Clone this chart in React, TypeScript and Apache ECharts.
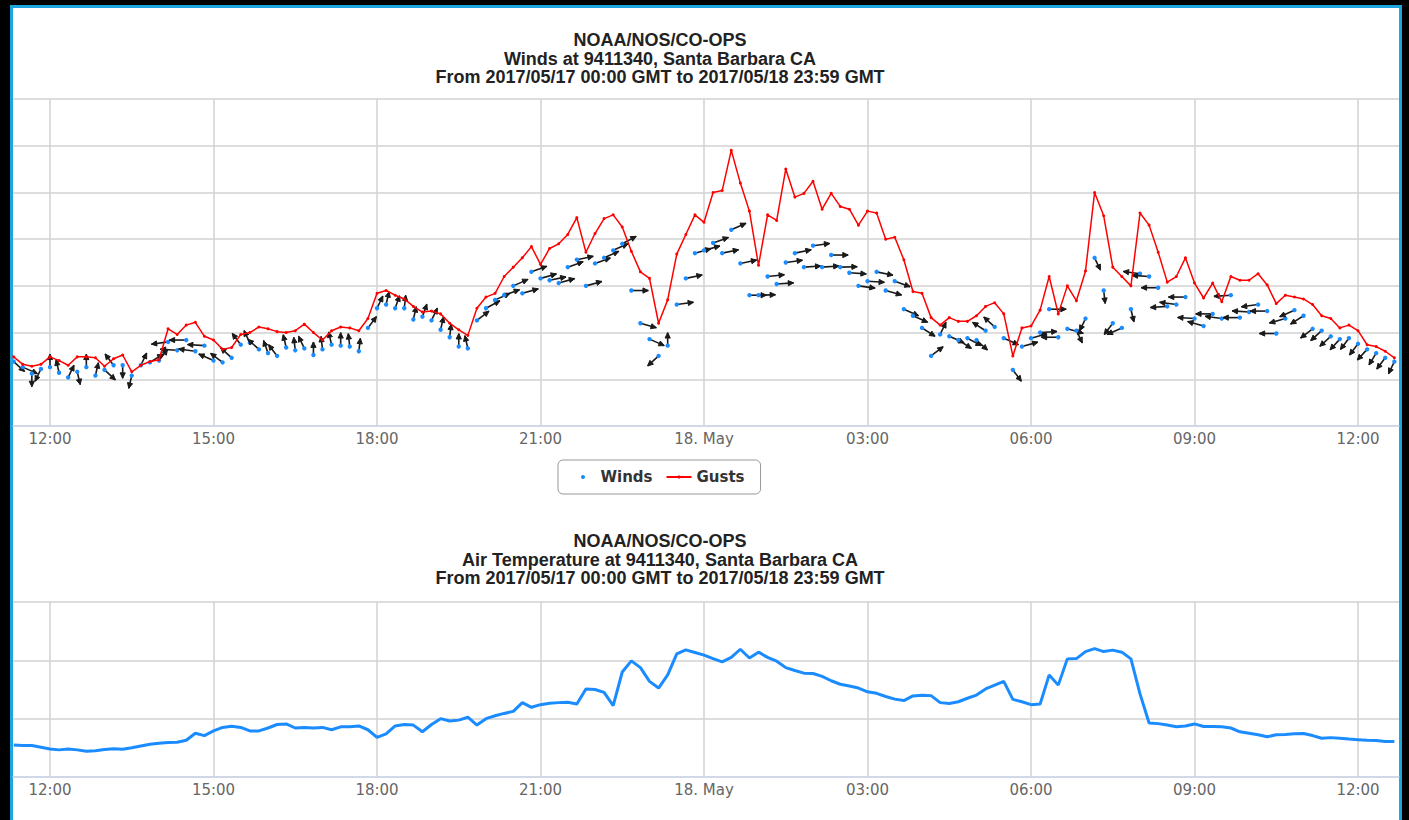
import React, { useEffect, useRef } from 'react';
import * as echarts from 'echarts';

// Time is expressed in hours since 2017-05-17 00:00 (station local time)
const FIRST_HOUR = 11 + 20 / 60; // first sample 11:20
const STEP_HOURS = 10 / 60; // 10-minute samples
const X_MIN = 11.321;
const X_MAX = 36.752;
const tickHours = [12, 15, 18, 21, 24, 27, 30, 33, 36];

const titleLinesWind = [
  'NOAA/NOS/CO-OPS',
  'Winds at 9411340, Santa Barbara CA',
  'From 2017/05/17 00:00 GMT to 2017/05/18 23:59 GMT',
];
const titleLinesTemp = [
  'NOAA/NOS/CO-OPS',
  'Air Temperature at 9411340, Santa Barbara CA',
  'From 2017/05/17 00:00 GMT to 2017/05/18 23:59 GMT',
];
const legendNames = ['Winds', 'Gusts'];

// Gusts (kn)
const gusts = [
  7.4, 6.6, 6.4, 6.6, 7.4, 7.0, 6.5, 7.4, 7.4, 7.3,
  6.4, 7.2, 7.6, 5.8, 6.5, 6.9, 7.1, 10.4, 9.8, 10.8,
  11.1, 9.6, 9.2, 8.2, 8.4, 9.8, 10.0, 10.6, 10.4, 10.1,
  10.0, 10.2, 10.9, 10.0, 9.2, 10.2, 10.6, 10.5, 10.2, 11.5,
  14.2, 14.5, 14.0, 13.6, 12.8, 12.2, 12.3, 12.0, 11.0, 10.3,
  9.7, 12.6, 13.8, 14.2, 16.0, 17.0, 18.0, 19.2, 17.3, 19.0,
  19.5, 20.5, 22.3, 18.6, 20.6, 22.2, 22.6, 21.3, 18.7, 16.5,
  15.8, 11.0, 13.5, 18.4, 20.5, 22.6, 21.8, 25.0, 25.2, 29.5,
  26.0, 23.0, 17.2, 22.6, 22.0, 27.5, 24.5, 24.9, 26.2, 23.2,
  24.9, 23.5, 23.2, 21.5, 23.0, 22.8, 20.0, 20.2, 17.8, 14.4,
  14.2, 11.6, 10.8, 11.6, 11.2, 11.2, 11.8, 12.8, 13.2, 12.0,
  7.5, 10.5, 10.7, 12.4, 16.0, 12.0, 15.0, 13.4, 16.6, 25.0,
  22.5, 17.0, 16.0, 15.0, 22.8, 21.5, 18.6, 15.4, 16.0, 18.0,
  15.3, 13.7, 15.3, 13.3, 16.0, 15.6, 15.6, 16.3, 15.1, 13.1,
  14.0, 13.8, 13.6, 13.0, 11.8, 11.5, 10.5, 10.8, 10.2, 8.7,
  8.5, 8.0, 7.3,
];

// Sustained wind speed (kn)
const windSpeed = [
  6.9, 6.3, 5.6, 6.1, 6.3, 5.7, 5.2, 5.8, 6.3, 5.4,
  6.0, 6.5, 6.5, 5.4, 6.5, 6.8, 7.0, 9.0, 8.1, 9.2,
  8.0, 8.6, 7.0, 6.8, 7.3, 8.7, 8.9, 8.2, 7.8, 7.5,
  8.4, 8.1, 8.3, 7.6, 8.2, 8.7, 8.6, 8.5, 8.0, 10.5,
  12.6, 13.0, 12.6, 12.6, 11.4, 11.7, 11.3, 10.3, 9.5, 8.5,
  8.3, 11.3, 12.6, 13.5, 14.0, 15.0, 14.2, 16.5, 15.8, 15.6,
  15.3, 17.0, 17.8, 15.0, 17.4, 18.0, 18.8, 19.5, 14.5, 11.0,
  9.3, 7.5, 8.6, 13.0, 15.8, 18.5, 18.8, 19.6, 18.5, 21.0,
  17.4, 14.0, 14.0, 16.0, 15.2, 17.5, 18.5, 17.0, 19.3, 17.0,
  18.3, 17.0, 16.4, 15.0, 15.5, 16.5, 14.5, 15.5, 12.5, 11.8,
  10.5, 7.5, 9.8, 9.6, 9.2, 9.4, 9.2, 10.2, 10.6, 9.4,
  6.0, 8.5, 9.4, 10.0, 12.5, 9.5, 10.4, 10.2, 11.5, 18.0,
  14.5, 11.0, 10.5, 12.5, 16.3, 16.0, 14.8, 12.8, 13.0, 13.8,
  11.5, 10.7, 12.0, 11.5, 14.0, 11.6, 12.2, 13.0, 12.3, 9.9,
  11.5, 12.4, 11.8, 10.4, 10.2, 9.6, 9.3, 9.4, 8.8, 8.2,
  7.8, 7.3, 6.9,
];

// Wind direction, degrees the wind blows FROM
const windDir = [
  320, 300, 0, 20, 180, 170, 200, 350, 180, 190,
  320, 150, 0, 10, 200, 230, 210, 80, 95, 90,
  100, 95, 120, 135, 140, 150, 160, 140, 165, 150,
  170, 175, 160, 180, 175, 170, 180, 175, 185, 210,
  200, 190, 195, 185, 190, 195, 200, 190, 185, 180,
  170, 225, 235, 240, 245, 240, 250, 245, 250, 255,
  250, 245, 255, 250, 245, 240, 240, 235, 270, 290,
  300, 40, 180, 260, 255, 250, 250, 245, 255, 240,
  255, 270, 268, 262, 265, 260, 255, 265, 260, 265,
  270, 268, 275, 280, 275, 285, 290, 295, 300, 300,
  310, 225, 200, 300, 310, 305, 320, 130, 140, 300,
  330, 250, 250, 265, 270, 90, 290, 340, 20, 340,
  355, 30, 60, 350, 100, 95, 90, 85, 100, 90,
  95, 110, 90, 100, 85, 90, 95, 80, 90, 90,
  70, 60, 50, 45, 40, 40, 35, 30, 30, 35,
  25, 30, 20,
];

// Air temperature (°F)
const airTemp = [
  59.10, 59.08, 59.08, 59.02, 58.96, 58.93, 58.96, 58.93, 58.88, 58.90,
  58.94, 58.97, 58.95, 59.00, 59.06, 59.12, 59.16, 59.18, 59.19, 59.26,
  59.50, 59.42, 59.58, 59.70, 59.74, 59.70, 59.58, 59.58, 59.68, 59.80,
  59.82, 59.68, 59.70, 59.68, 59.70, 59.62, 59.72, 59.72, 59.75, 59.62,
  59.36, 59.48, 59.75, 59.80, 59.78, 59.55, 59.80, 60.00, 59.92, 59.95,
  60.05, 59.78, 60.00, 60.10, 60.18, 60.25, 60.55, 60.39, 60.48, 60.53,
  60.55, 60.56, 60.50, 61.02, 61.00, 60.90, 60.45, 61.60, 61.98, 61.75,
  61.28, 61.05, 61.50, 62.22, 62.36, 62.27, 62.18, 62.06, 61.95, 62.10,
  62.38, 62.08, 62.28, 62.10, 61.97, 61.75, 61.65, 61.56, 61.55, 61.45,
  61.30, 61.18, 61.12, 61.05, 60.92, 60.87, 60.76, 60.67, 60.62, 60.78,
  60.80, 60.79, 60.55, 60.52, 60.58, 60.70, 60.81, 61.02, 61.15, 61.28,
  60.66, 60.58, 60.48, 60.50, 61.50, 61.15, 62.05, 62.06, 62.30, 62.40,
  62.30, 62.35, 62.28, 62.05, 60.85, 59.85, 59.83, 59.78, 59.72, 59.75,
  59.82, 59.73, 59.73, 59.72, 59.68, 59.55, 59.50, 59.45, 59.38, 59.45,
  59.46, 59.48, 59.49, 59.42, 59.33, 59.35, 59.33, 59.30, 59.28, 59.26,
  59.25, 59.22, 59.22,
];

const hourAt = (i: number) => FIRST_HOUR + i * STEP_HOURS;

const BLUE = '#1a8cff';
const GRID_COLOR = '#d2d2d2';

function fmtHour(val: number) {
  const h = Math.round(val);
  if (Math.abs(val - h) > 1e-6) return '';
  const hh = h % 24;
  if (hh === 0) return '18. May';
  return (hh < 10 ? '0' : '') + hh + ':00';
}

function xAxisCfg(gridIndex: number) {
  return {
    type: 'value',
    gridIndex,
    min: X_MIN,
    max: X_MAX,
    axisLine: { show: true, lineStyle: { color: '#ccd6eb', width: 1.5 } },
    axisTick: { show: false, customValues: tickHours },
    axisLabel: {
      show: true,
      customValues: tickHours,
      formatter: fmtHour,
      color: '#666',
      fontFamily: 'DejaVu Sans',
      fontSize: 15,
      margin: 5,
    },
    splitLine: { show: true, lineStyle: { color: GRID_COLOR, width: 1.5 } },
  };
}

export default function App() {
  const ref = useRef<HTMLDivElement>(null);

  useEffect(() => {
    if (!ref.current) return;
    const chart = echarts.init(ref.current, undefined, { renderer: 'svg' });

    const windData = windSpeed.map((v, i) => [hourAt(i), v, windDir[i]]);
    const gustData = gusts.map((v, i) => [hourAt(i), v]);
    const tempData = airTemp.map((v, i) => [hourAt(i), v]);

    const titleStyle = {
      fontFamily: 'Liberation Sans',
      fontWeight: 'bold',
      fontSize: 18,
      lineHeight: 18.7,
      color: '#222',
    };

    const option: any = {
      animation: false,
      backgroundColor: 'transparent',
      title: [
        {
          text: titleLinesWind.join('\n'),
          left: 660,
          top: 30.5,
          textAlign: 'center',
          padding: 0,
          textStyle: titleStyle,
        },
        {
          text: titleLinesTemp.join('\n'),
          left: 660,
          top: 531.5,
          textAlign: 'center',
          padding: 0,
          textStyle: titleStyle,
        },
      ],
      legend: {
        data: [{ name: legendNames[0], icon: 'circle' }, { name: legendNames[1] }],
        left: 558,
        top: 460,
        orient: 'horizontal',
        padding: [9.5, 16, 9.5, 23],
        itemWidth: 25,
        itemHeight: 4,
        itemGap: 13,
        borderColor: '#999',
        borderWidth: 1,
        borderRadius: 5,
        selectedMode: false,
        textStyle: {
          fontFamily: 'DejaVu Sans',
          fontWeight: 'bold',
          fontSize: 15,
          color: '#333',
        },
      },
      grid: [
        { left: 13, right: 10, top: 99, height: 327 },
        { left: 13, right: 10, top: 602, height: 175 },
      ],
      xAxis: [xAxisCfg(0), xAxisCfg(1)],
      yAxis: [
        {
          type: 'value',
          gridIndex: 0,
          min: 0,
          max: 35,
          interval: 5,
          axisLabel: { show: false },
          axisLine: { show: false },
          axisTick: { show: false },
          splitLine: { show: true, lineStyle: { color: GRID_COLOR, width: 1.5 } },
        },
        {
          type: 'value',
          gridIndex: 1,
          min: 58,
          max: 64,
          interval: 2,
          axisLabel: { show: false },
          axisLine: { show: false },
          axisTick: { show: false },
          splitLine: { show: true, lineStyle: { color: GRID_COLOR, width: 1.5 } },
        },
      ],
      series: [
        {
          name: 'Winds',
          type: 'custom',
          xAxisIndex: 0,
          yAxisIndex: 0,
          itemStyle: { color: BLUE },
          encode: { x: 0, y: 1 },
          clip: true,
          data: windData,
          renderItem: (params: any, api: any) => {
            const p = api.coord([api.value(0), api.value(1)]);
            const bearing = ((api.value(2) + 180) * Math.PI) / 180;
            const ex = p[0] + 17 * Math.sin(bearing);
            const ey = p[1] - 13 * Math.cos(bearing);
            const ang = Math.atan2(ey - p[1], ex - p[0]);
            const hl = 6;
            const sp = 0.45;
            const h1 = [ex - hl * Math.cos(ang - sp), ey - hl * Math.sin(ang - sp)];
            const h2 = [ex - hl * Math.cos(ang + sp), ey - hl * Math.sin(ang + sp)];
            return {
              type: 'group',
              children: [
                {
                  type: 'line',
                  shape: { x1: p[0], y1: p[1], x2: ex, y2: ey },
                  style: { stroke: '#1a1a1a', lineWidth: 1.6 },
                },
                {
                  type: 'polygon',
                  shape: { points: [h1, [ex, ey], h2] },
                  style: { stroke: '#1a1a1a', fill: '#1a1a1a', lineWidth: 1 },
                },
                {
                  type: 'circle',
                  shape: { cx: p[0], cy: p[1], r: 2.2 },
                  style: { fill: BLUE },
                },
              ],
            };
          },
        },
        {
          name: 'Gusts',
          type: 'line',
          xAxisIndex: 0,
          yAxisIndex: 0,
          data: gustData,
          symbol: 'circle',
          symbolSize: 3,
          showSymbol: true,
          color: '#ff0000',
          lineStyle: { color: '#ff0000', width: 1.5 },
          itemStyle: { color: '#ff0000' },
        },
        {
          name: 'Air Temperature',
          type: 'line',
          xAxisIndex: 1,
          yAxisIndex: 1,
          data: tempData,
          symbol: 'none',
          color: BLUE,
          lineStyle: { color: BLUE, width: 3 },
        },
      ],
    };

    chart.setOption(option);
    return () => chart.dispose();
  }, []);

  return (
    <div
      style={{
        position: 'fixed',
        left: 0,
        top: 0,
        width: 1409,
        height: 820,
        background: '#000',
        overflow: 'hidden',
      }}
    >
      <div
        style={{
          position: 'absolute',
          left: 9.5,
          top: 5,
          width: 1386,
          height: 840,
          border: '3.5px solid #1ca5df',
          background: '#fff',
        }}
      />
      <div
        ref={ref}
        style={{ position: 'absolute', left: 0, top: 0, width: 1409, height: 820 }}
      />
    </div>
  );
}
